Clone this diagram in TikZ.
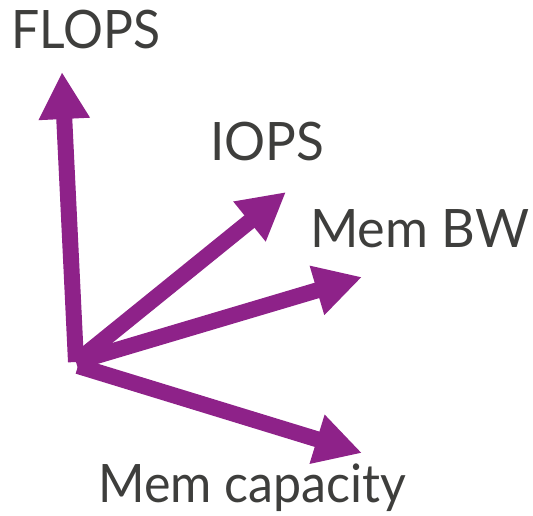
\documentclass[tikz,border=0pt]{standalone}
\usepackage{fontspec}
\setmainfont{Lato}
\usetikzlibrary{arrows.meta}
\definecolor{arrowpurple}{RGB}{142,34,137}
\definecolor{labelgray}{RGB}{62,62,60}
\newcommand{\fitw}[2]{\resizebox{#1}{\height}{#2}}
\begin{document}
\begin{tikzpicture}[x=1pt,y=-1pt,
  vec/.style={draw=arrowpurple, line width=16pt,
    -{Triangle[length=47pt,width=48pt]}},
  lbl/.style={anchor=base west, inner sep=0pt, text=labelgray,
    font=\fontsize{53}{60}\selectfont}]
\useasboundingbox (0,0) rectangle (533,515);
\coordinate (o) at (76,362);
\coordinate (o2) at (78,366);
\coordinate (flopsTip) at (62,72);
\coordinate (iopsTip) at (286,192);
\coordinate (bwTip) at (362,277);
\coordinate (capTip) at (362,453);
\draw[vec] (o2) -- (capTip);
\draw[vec] (o) -- (bwTip);
\draw[vec] (o) -- (iopsTip);
\draw[vec] (o) -- (flopsTip);
\node[lbl] (flops) at (11,48) {\fitw{149pt}{FLOPS}};
\node[lbl] (iops) at (210,160) {\fitw{114pt}{IOPS}};
\node[lbl] (bw) at (310,247) {\fitw{219pt}{Mem BW}};
\node[lbl] (cap) at (98,502) {\fitw{308pt}{Mem capacity}};
\end{tikzpicture}
\end{document}
